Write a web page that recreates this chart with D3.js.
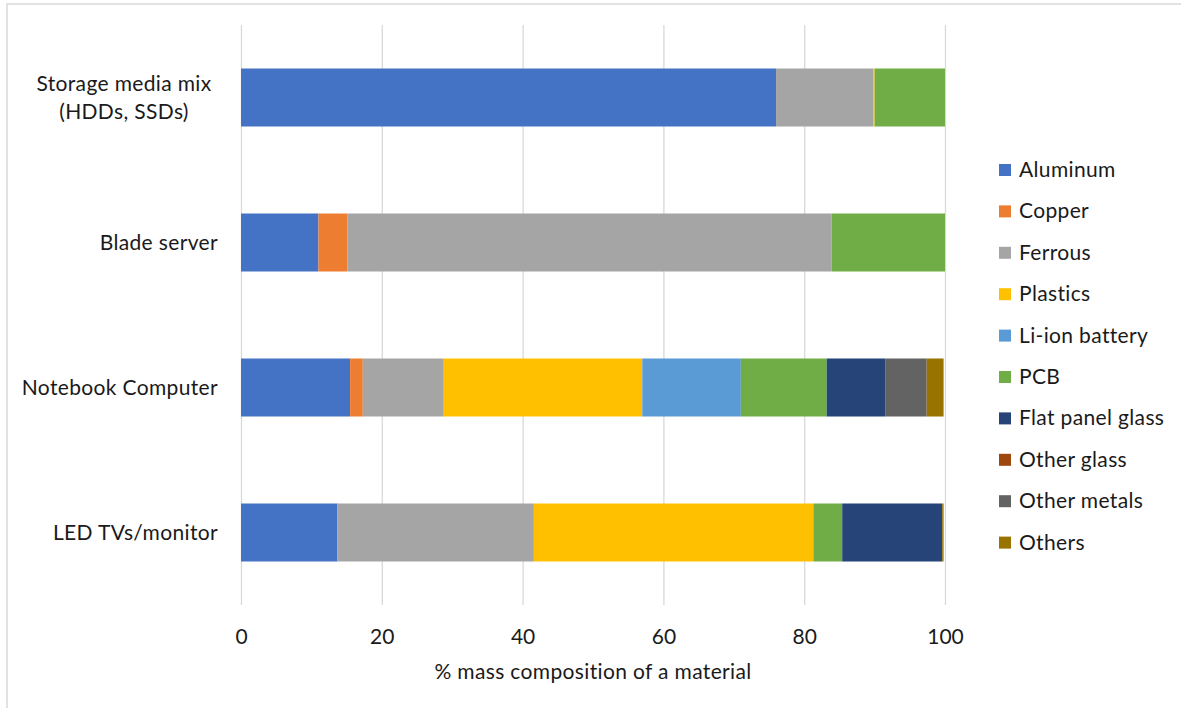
<!DOCTYPE html>
<html>
<head>
<meta charset="utf-8">
<script src="https://cdn.jsdelivr.net/npm/d3@7/dist/d3.min.js"></script>
<style>
  html, body { margin: 0; padding: 0; background: #fff; }
  svg { display: block; font-family: Lato, "Open Sans", sans-serif; }
</style>
</head>
<body>
<svg id="chart" width="1181" height="708"></svg>
<script>
// Product categories, top to bottom
const categories = [
  "Storage media mix (HDDs, SSDs)",
  "Blade server",
  "Notebook Computer",
  "LED TVs/monitor"
];
const categoryLines = [
  ["Storage media mix", "(HDDs, SSDs)"],
  ["Blade server"],
  ["Notebook Computer"],
  ["LED TVs/monitor"]
];

// Materials (stack order) and their colours
const materials = [
  "Aluminum", "Copper", "Ferrous", "Plastics", "Li-ion battery",
  "PCB", "Flat panel glass", "Other glass", "Other metals", "Others"
];
const materialColors = [
  "#4472C4", "#ED7D31", "#A5A5A5", "#FFC000", "#5B9BD5",
  "#70AD47", "#264478", "#9E480E", "#636363", "#997300"
];

// % mass composition per material, one value per category (same order as categories)
const aluminum      = [76.0, 11.0, 15.5, 13.7];
const copper        = [0.0,  4.1,  1.8,  0.0];
const ferrous       = [13.8, 68.8, 11.5, 27.9];
const plastics      = [0.2,  0.0,  28.2, 39.7];
const liIonBattery  = [0.0,  0.0,  14.0, 0.0];
const pcb           = [10.0, 16.1, 12.2, 4.1];
const flatPanelGlass= [0.0,  0.0,  8.3,  14.2];
const otherGlass    = [0.0,  0.0,  0.0,  0.0];
const otherMetals   = [0.0,  0.0,  5.9,  0.0];
const others        = [0.0,  0.0,  2.4,  0.2];

const xTicks = [0, 20, 40, 60, 80, 100];
const xTitle = "% mass composition of a material";

const seriesValues = [aluminum, copper, ferrous, plastics, liIonBattery,
  pcb, flatPanelGlass, otherGlass, otherMetals, others];

const rows = categories.map((c, i) => {
  const r = { category: c };
  materials.forEach((m, j) => { r[m] = seriesValues[j][i]; });
  return r;
});

const textColor = "#1a1a1a";
const labelSize = 21;
const labelSpacing = 0.35;

const svg = d3.select("#chart");

// outer frame
svg.append("rect")
  .attr("x", 7).attr("y", 4)
  .attr("width", 1200).attr("height", 720)
  .attr("fill", "none")
  .attr("stroke", "#d9d9d9")
  .attr("stroke-width", 1.5);

const plot = { left: 241, right: 945, top: 25, bottom: 605 };

const x = d3.scaleLinear().domain([0, 100]).range([plot.left, plot.right]);
const y = d3.scaleBand().domain(categories).range([plot.top, plot.bottom]).paddingInner(0.6).paddingOuter(0.3);

// gridlines
const grid = svg.append("g")
  .attr("transform", `translate(0,${plot.bottom})`)
  .call(d3.axisBottom(x).tickValues(xTicks).tickSize(-(plot.bottom - plot.top)).tickFormat(""));
grid.select(".domain").remove();
grid.selectAll("line").attr("stroke", "#d9d9d9").attr("stroke-width", 1.3);

// stacked bars
const stack = d3.stack().keys(materials)(rows);
const color = d3.scaleOrdinal().domain(materials).range(materialColors);

svg.append("g").selectAll("g")
  .data(stack)
  .join("g")
  .attr("fill", d => color(d.key))
  .selectAll("rect")
  .data(d => d)
  .join("rect")
  .attr("x", d => x(d[0]))
  .attr("y", d => y(d.data.category))
  .attr("width", d => Math.max(0, x(d[1]) - x(d[0])))
  .attr("height", y.bandwidth());

// x axis tick labels
const xAxis = svg.append("g")
  .attr("transform", `translate(0,${plot.bottom})`)
  .call(d3.axisBottom(x).tickValues(xTicks).tickSize(0).tickPadding(24));
xAxis.select(".domain").remove();
xAxis.selectAll("text")
  .attr("font-size", 21)
  .attr("font-family", "Lato, sans-serif")
  .attr("fill", textColor);

svg.append("text")
  .attr("x", (plot.left + plot.right) / 2)
  .attr("y", 679)
  .attr("text-anchor", "middle")
  .attr("font-size", labelSize)
  .attr("letter-spacing", labelSpacing)
  .attr("fill", textColor)
  .text(xTitle);

// category labels
const catG = svg.append("g");
categories.forEach((c, i) => {
  const lines = categoryLines[i];
  const cy = y(c) + y.bandwidth() / 2;
  const lh = 28;
  const t = catG.append("text")
    .attr("font-size", labelSize)
    .attr("letter-spacing", labelSpacing)
    .attr("fill", textColor);
  lines.forEach((ln, k) => {
    t.append("tspan")
      .attr("x", lines.length > 1 ? 124 : 218)
      .attr("y", cy + (k - (lines.length - 1) / 2) * lh + 7)
      .attr("text-anchor", lines.length > 1 ? "middle" : "end")
      .text(ln);
  });
});

// legend
const legend = svg.append("g");
materials.forEach((m, i) => {
  const ly = 170 + i * 41.4;
  legend.append("rect")
    .attr("x", 999).attr("y", ly - 6)
    .attr("width", 12).attr("height", 12)
    .attr("fill", materialColors[i]);
  legend.append("text")
    .attr("x", 1019).attr("y", ly + 7)
    .attr("font-size", labelSize)
    .attr("letter-spacing", labelSpacing)
    .attr("fill", textColor)
    .text(m);
});
</script>
</body>
</html>
